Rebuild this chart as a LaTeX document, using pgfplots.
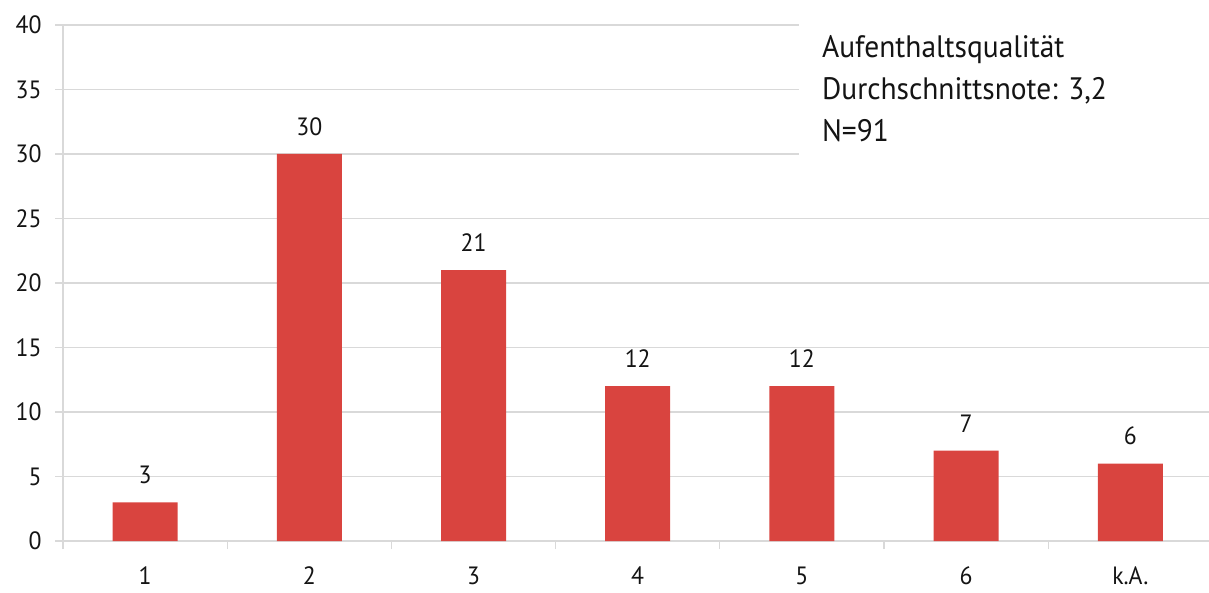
\documentclass[border=0pt]{standalone}
\usepackage{pgfplots}
\pgfplotsset{compat=1.18}
\usepackage{fontspec}
\setmainfont{PT Sans}[FakeStretch=0.95]
\definecolor{barred}{RGB}{217,68,63}
\definecolor{gridgray}{RGB}{217,217,217}
\definecolor{txt}{RGB}{20,20,20}
\begin{document}
\begin{tikzpicture}
\useasboundingbox (0,0) rectangle (1209pt,592pt);
\begin{axis}[
  at={(63pt,51pt)}, anchor=south west,
  scale only axis, width=1146pt, height=516pt,
  xmin=0.5, xmax=7.479, ymin=0, ymax=40,
  ybar, bar width=65pt,
  axis x line*=bottom, axis y line*=left,
  axis line style={draw=gridgray, line width=1.3pt},
  ytick={0,5,...,40},
  ymajorgrids, grid style={draw=gridgray, line width=1.3pt},
  xtick={1,...,7},
  xticklabels={1,2,3,4,5,6,k.A.},
  minor xtick={0.5,1.5,...,6.5},
  tick align=outside,
  xtick style={draw=none},
  minor x tick style={draw=gridgray, line width=1.3pt},
  minor tick length=8pt,
  ytick style={draw=gridgray, line width=1.3pt},
  major tick length=8pt,
  tick label style={font=\fontsize{25}{30}\selectfont, text=txt},
  /pgf/number format/assume math mode=true,
  yticklabel style={xshift=-10pt},
  xticklabel style={yshift=-14pt},
  nodes near coords,
  every node near coord/.append style={font=\fontsize{25}{30}\selectfont, text=txt, yshift=15pt},
  clip=false,
]
\addplot[fill=barred, draw=none] coordinates {(1,3) (2,30) (3,21) (4,12) (5,12) (6,7) (7,6)};
\fill[white] (axis cs:4.98,40.3) rectangle (axis cs:7.479,28.5);
\node[anchor=base west, inner sep=0, text=txt, font=\fontsize{31}{36}\selectfont] at (axis cs:5.122,37.47) {Aufenthaltsqualität};
\node[anchor=base west, inner sep=0, text=txt, font=\fontsize{31}{36}\selectfont] at (axis cs:5.122,34.19) {Durchschnittsnote: 3,2};
\node[anchor=base west, inner sep=0, text=txt, font=\fontsize{31}{36}\selectfont] at (axis cs:5.122,31.0) {N=91};
\end{axis}
\end{tikzpicture}
\end{document}
